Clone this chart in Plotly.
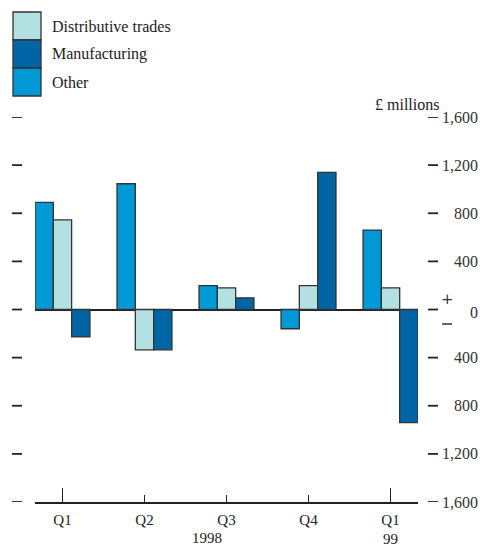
import plotly.graph_objects as go

quarters = ["Q1", "Q2", "Q3", "Q4", "Q1"]
years = ["1998", "99"]
other = [890, 1045, 198, -160, 660]
distributive = [745, -335, 180, 198, 180]
manufacturing = [-228, -335, 97, 1140, -940]
tick_vals = [1600, 1200, 800, 400, 0, -400, -800, -1200, -1600]
tick_text = ["1,600", "1,200", "800", "400", "0", "400", "800", "1,200", "1,600"]

C_OTHER = "#0099d6"
C_DIST = "#b3e0e0"
C_MANU = "#0065a4"
EDGE = "#333333"
INK = "#222222"
FONT = "Liberation Serif"
FS = 16

W, H = 480, 547
ML, MR, MT, MB = 12, 42, 117, 45
PW = W - ML - MR
PH = H - MT - MB


def px(xp):
    return (xp - ML) / PW


def py(yp):
    return (H - MB - yp) / PH


xs = list(range(len(quarters)))
fig = go.Figure()
for name, vals, col, rank in [("Other", other, C_OTHER, 3),
                              ("Distributive trades", distributive, C_DIST, 1),
                              ("Manufacturing", manufacturing, C_MANU, 2)]:
    fig.add_trace(go.Bar(x=xs, y=vals, name=name, marker_color=col,
                         marker_line_color=EDGE, marker_line_width=1.3,
                         legendrank=rank, showlegend=False, hoverinfo="skip"))

fig.update_layout(
    width=W, height=H,
    margin=dict(l=ML, r=MR, t=MT, b=MB, autoexpand=False),
    paper_bgcolor="white", plot_bgcolor="white",
    barmode="group", bargap=0.33, bargroupgap=0,
    font=dict(family=FONT, size=FS, color=INK),
    xaxis=dict(domain=[px(35), px(418)], range=[-0.335, 4.335],
               tickmode="array", tickvals=xs, ticktext=quarters,
               ticks="inside", ticklen=7, tickwidth=1.2, tickcolor=INK,
               showline=True, linecolor=INK, linewidth=1.5,
               showgrid=False, zeroline=False, ticklabelstandoff=3,
               anchor="y", automargin=False,
               tickfont=dict(family=FONT, size=FS - 1, color=INK),
               minor=dict(tickmode="array", tickvals=[0, 4], ticks="inside",
                          ticklen=14, tickwidth=1.2, tickcolor=INK, showgrid=False)),
    yaxis=dict(range=[-1600, 1600], automargin=False,
               showticklabels=False, showgrid=False, showline=False, ticks="",
               zeroline=True, zerolinecolor=INK, zerolinewidth=1.5),
)

ann = []
shapes = []
# tick marks on both sides + right tick labels
for v, t in zip(tick_vals, tick_text):
    shapes.append(dict(type="line", xref="paper", yref="y", x0=px(12), x1=px(22),
                       y0=v, y1=v, line=dict(color=INK, width=1.8)))
    shapes.append(dict(type="line", xref="paper", yref="y", x0=px(428), x1=px(438),
                       y0=v, y1=v, line=dict(color=INK, width=1.8)))
    ann.append(dict(x=px(480), y=v, xref="paper", yref="y", text=t,
                    showarrow=False, xanchor="right", yanchor="middle",
                    yshift=-3 if v == 0 else 0,
                    font=dict(family=FONT, size=FS, color="#333")))
ann.append(dict(x=px(447), y=py(299), xref="paper", yref="paper", text="+",
                showarrow=False, xanchor="center", yanchor="middle",
                font=dict(family="DejaVu Serif", size=15, color="#333")))
shapes.append(dict(type="line", xref="paper", yref="paper", x0=px(442), x1=px(452),
                   y0=py(324), y1=py(324), line=dict(color="#333", width=1.5)))
ann.append(dict(x=px(441), y=py(104), xref="paper", yref="paper", text="£ millions",
                showarrow=False, xanchor="right", yanchor="middle",
                font=dict(family=FONT, size=FS, color=INK)))
# year labels
ann.append(dict(x=px(207), y=py(538), xref="paper", yref="paper", text=years[0],
                showarrow=False, xanchor="center", yanchor="middle",
                font=dict(family=FONT, size=FS - 1, color=INK)))
ann.append(dict(x=px(390), y=py(539), xref="paper", yref="paper", text=years[1],
                showarrow=False, xanchor="center", yanchor="middle",
                font=dict(family=FONT, size=FS - 1, color=INK)))

# manual legend
legend_items = [("Distributive trades", C_DIST), ("Manufacturing", C_MANU), ("Other", C_OTHER)]
for i, (name, col) in enumerate(legend_items):
    y0 = 12 + i * 28
    y1 = y0 + 28
    shapes.append(dict(type="rect", xref="paper", yref="paper",
                       x0=px(13), x1=px(41), y0=py(y1), y1=py(y0),
                       fillcolor=col, line=dict(color=EDGE, width=1.3)))
    ann.append(dict(x=px(50), y=py((y0 + y1) / 2), xref="paper", yref="paper",
                    text=name, showarrow=False, xanchor="left", yanchor="middle",
                    font=dict(family=FONT, size=FS, color=INK)))

fig.update_layout(annotations=ann, shapes=shapes)
fig.write_html("out.html", config={"displayModeBar": False},
               post_script="document.body.style.margin='0';document.body.style.padding='0';")
